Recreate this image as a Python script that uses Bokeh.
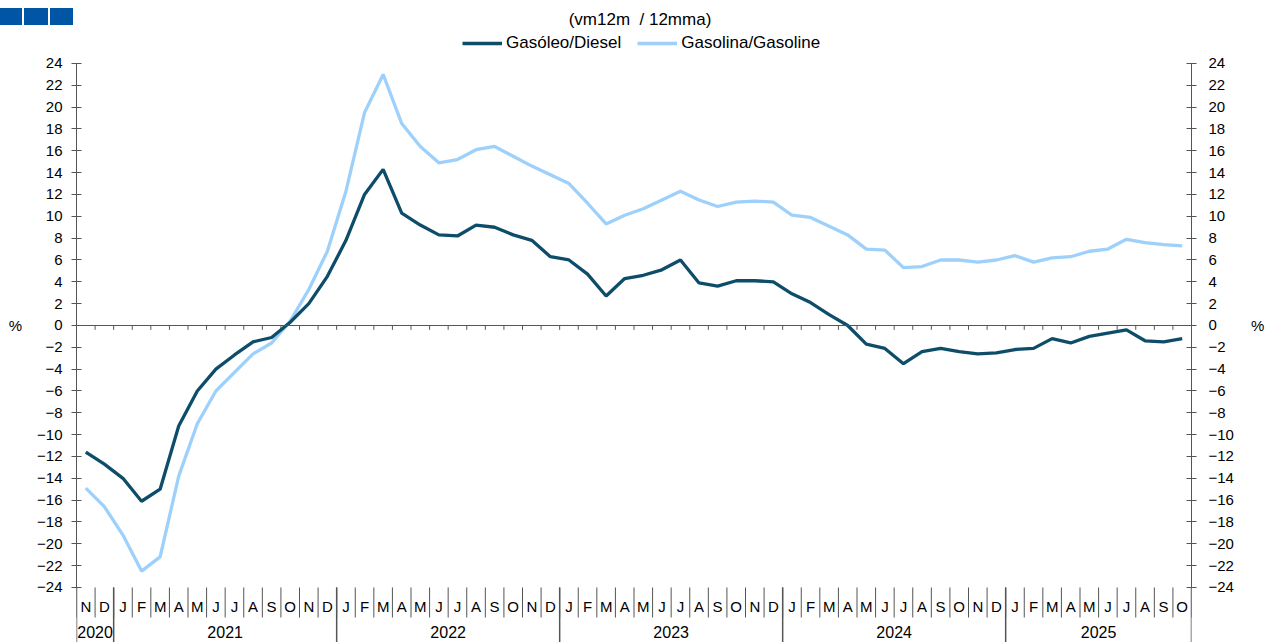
from bokeh.plotting import figure
from bokeh.models import Range1d, LinearAxis, FixedTicker, Legend, LegendItem, Span, Div
from bokeh.layouts import column
from bokeh.embed import file_html
from bokeh.resources import INLINE
from bokeh.core.properties import value

# ---------------- data ----------------
months = (["N", "D"]
          + ["J", "F", "M", "A", "M", "J", "J", "A", "S", "O", "N", "D"] * 4
          + ["J", "F", "M", "A", "M", "J", "J", "A", "S", "O"])
years = ["2020", "2021", "2022", "2023", "2024", "2025"]
months_per_year = [2, 12, 12, 12, 12, 10]

diesel = [-11.6, -12.7, -14.0, -16.1, -15.0, -9.2, -6.0, -4.0, -2.7, -1.5, -1.1, 0.3,
          2.0, 4.5, 7.8, 12.0, 14.3, 10.3, 9.2, 8.3, 8.2, 9.2, 9.0, 8.3,
          7.8, 6.3, 6.0, 4.7, 2.7, 4.3, 4.6, 5.1, 6.0, 3.9, 3.6, 4.1,
          4.1, 4.0, 2.9, 2.1, 1.0, 0.0, -1.7, -2.1, -3.5, -2.4, -2.1, -2.4,
          -2.6, -2.5, -2.2, -2.1, -1.2, -1.6, -1.0, -0.7, -0.4, -1.4, -1.5, -1.2]
gasoline = [-14.9, -16.6, -19.2, -22.5, -21.2, -13.8, -9.0, -6.0, -4.3, -2.6, -1.6, 0.4,
            3.3, 6.8, 12.3, 19.5, 23.0, 18.5, 16.4, 14.9, 15.2, 16.1, 16.4, 15.5,
            14.6, 13.8, 13.0, 11.2, 9.3, 10.1, 10.7, 11.5, 12.3, 11.5, 10.9, 11.3,
            11.4, 11.3, 10.1, 9.9, 9.1, 8.3, 7.0, 6.9, 5.3, 5.4, 6.0, 6.0,
            5.8, 6.0, 6.4, 5.8, 6.2, 6.3, 6.8, 7.0, 7.9, 7.6, 7.4, 7.3]
y_ticks = list(range(-24, 25, 2))
title_text = "(vm12m&nbsp; / 12mma)"
series_names = ["Gasóleo/Diesel", "Gasolina/Gasoline"]
unit_label = "%\n"

# ---------------- styles ----------------
FONT = "Liberation Sans"
DIESEL_C = "#0E4D6A"
GASOL_C = "#9DD0FB"
AXIS_C = "#555555"
SQ_C = "#0055A5"

W = 1267
n = len(months)
xs = [i + 0.5 for i in range(n)]

# ---------------- header strip: logo squares + title ----------------
sq = "position:absolute;top:8px;height:17px;background:%s;" % SQ_C
header_html = (
    '<div style="position:relative;width:%dpx;height:28px;font-family:\'%s\';">' % (W, FONT)
    + '<div style="%sleft:0px;width:22px;"></div>' % sq
    + '<div style="%sleft:24px;width:24px;"></div>' % sq
    + '<div style="%sleft:50px;width:23px;"></div>' % sq
    + '<div style="position:absolute;left:490px;width:300px;top:10px;text-align:center;'
      'font-size:17px;line-height:19px;color:#000;">%s</div>' % title_text
    + '</div>'
)
header = Div(text=header_html, width=W, height=28, margin=0)

# ---------------- main chart ----------------
Y_TOP = 27.206
Y_BOTTOM = -29.04
p = figure(width=W, height=614, x_range=Range1d(0, n), y_range=Range1d(Y_BOTTOM, Y_TOP),
           toolbar_location=None, output_backend="svg",
           x_axis_location=None, y_axis_location=None,
           min_border_left=76, min_border_right=70, min_border_top=0, min_border_bottom=0)
p.outline_line_color = None
p.grid.visible = False

for side, standoff, lab_standoff in (("left", 9, 12), ("right", 12, 14)):
    ax = LinearAxis(ticker=FixedTicker(ticks=y_ticks), bounds=(-24, 24))
    ax.axis_line_color = AXIS_C
    ax.major_tick_line_color = AXIS_C
    ax.minor_tick_line_color = None
    ax.major_tick_in = 5
    ax.major_tick_out = 5
    ax.major_label_text_font = FONT
    ax.major_label_text_font_size = "15px"
    ax.major_label_text_color = "#000000"
    ax.major_label_standoff = standoff
    ax.axis_label = unit_label
    ax.axis_label_text_font = FONT
    ax.axis_label_text_font_size = "15px"
    ax.axis_label_text_font_style = "normal"
    ax.axis_label_text_color = "#000000"
    ax.axis_label_standoff = lab_standoff
    if "axis_label_orientation" in ax.properties():
        ax.axis_label_orientation = "horizontal"
    p.add_layout(ax, side)

p.add_layout(Span(location=0, dimension="width", line_color=AXIS_C, line_width=1))
bounds = list(range(0, n + 1))
# small ticks on the zero line at month boundaries
p.segment(x0=bounds[1:-1], y0=[0] * (n - 1), x1=bounds[1:-1], y1=[-0.4] * (n - 1),
          line_color=AXIS_C, line_width=1)

# month separators and labels
p.segment(x0=bounds, y0=[-24] * len(bounds), x1=bounds, y1=[-26.75] * len(bounds),
          line_color=AXIS_C, line_width=1)
p.text(x=xs, y=[-25.72] * n, text=months, text_align="center", text_baseline="middle",
       text_font=value(FONT), text_font_size="15px", text_color="#000000")

# year separators and labels
ybounds = [0]
for m in months_per_year:
    ybounds.append(ybounds[-1] + m)
ycent = [(ybounds[i] + ybounds[i + 1]) / 2 for i in range(len(years))]
p.segment(x0=ybounds, y0=[-24] * len(ybounds), x1=ybounds, y1=[Y_BOTTOM] * len(ybounds),
          line_color=AXIS_C, line_width=1.5)
p.text(x=ycent, y=[-28.1] * len(years), text=years, text_align="center", text_baseline="middle",
       text_font=value(FONT), text_font_size="16px", text_color="#000000")

r_g = p.line(xs, gasoline, line_color=GASOL_C, line_width=3.3)
r_d = p.line(xs, diesel, line_color=DIESEL_C, line_width=3.3)

legend = Legend(items=[LegendItem(label=series_names[0], renderers=[r_d]),
                       LegendItem(label=series_names[1], renderers=[r_g])],
                orientation="horizontal", location=(386, 589),
                border_line_color=None, background_fill_alpha=0,
                label_text_font=FONT, label_text_font_size="17px", label_text_color="#000000",
                glyph_width=40, glyph_height=18, label_height=18,
                padding=0, margin=0, spacing=16, label_standoff=4)
p.add_layout(legend, "center")

layout = column(header, p, spacing=0)
open("out.html", "w").write(file_html(layout, INLINE))
